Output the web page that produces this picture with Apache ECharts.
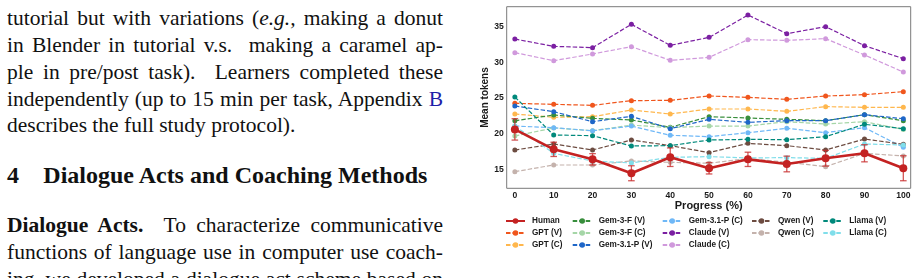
<!DOCTYPE html>
<html><head><meta charset="utf-8">
<script src="https://cdn.jsdelivr.net/npm/echarts@6/dist/echarts.min.js"></script>
<style>
html,body{margin:0;padding:0;width:918px;height:278px;overflow:hidden;background:#fff;}
.t{position:absolute;left:7px;width:436px;font-family:"Liberation Serif","Times New Roman",serif;font-size:21.5px;color:#111;white-space:nowrap;line-height:1;}
.j{text-align:justify;text-align-last:justify;white-space:normal;}
.h{position:absolute;font-family:"Liberation Serif",serif;font-weight:bold;font-size:24px;color:#111;line-height:1;white-space:nowrap;}
#chart{position:absolute;left:460px;top:0;width:458px;height:278px;}
</style></head>
<body>
<div class="t j" style="top:8px">tutorial but with variations (<i>e.g.,</i> making a donut</div>
<div class="t j" style="top:35.3px">in Blender in tutorial v.s.&nbsp; making a caramel ap-</div>
<div class="t j" style="top:62px">ple in pre/post task).&nbsp; Learners completed these</div>
<div class="t j" style="top:89.3px">independently (up to 15 min per task, Appendix <span style="color:#1f1fa8">B</span></div>
<div class="t" style="top:115.3px">describes the full study protocol).</div>
<div class="h" style="left:7px;top:163.2px">4</div>
<div class="h" style="left:43.3px;top:163.2px">Dialogue Acts and Coaching Methods</div>
<div class="t j" style="top:215.3px"><b>Dialogue Acts.</b>&nbsp; To characterize communicative</div>
<div class="t j" style="top:242px">functions of language use in computer use coach-</div>
<div class="t j" style="top:269px">ing, we developed a dialogue act scheme based on</div>
<div id="chart"></div>
<script>
const progress = [0, 10, 20, 30, 40, 50, 60, 70, 80, 90, 100];
const xTickLabels = [0, 10, 20, 30, 40, 50, 60, 70, 80, 90, 100];
const yTickLabels = [15, 20, 25, 30, 35];

const human    = [20.6, 17.8, 16.4, 14.45, 16.7, 15.15, 16.4, 15.75, 16.55, 17.25, 15.15];
const humanErr = [1.5, 1.0, 0.8, 1.05, 1.3, 0.8, 1.0, 1.1, 1.1, 1.2, 1.75];
const gptV     = [24.25, 24.11, 23.97, 24.63, 24.67, 25.28, 25.09, 24.81, 25.28, 25.47, 25.89];
const gptC     = [22.76, 22.29, 22.38, 23.32, 22.76, 23.46, 23.46, 23.13, 23.79, 23.69, 23.69];
const gem3fV   = [21.8, 22.62, 22.15, 21.92, 20.9, 22.38, 22.2, 22.01, 21.82, 22.66, 21.82];
const gem3fC   = [19.68, 20.8, 20.42, 21.2, 20.84, 21.07, 21.07, 21.68, 21.35, 21.68, 20.6];
const gem31pV  = [23.88, 23.08, 21.68, 22.43, 20.7, 22.01, 21.59, 21.82, 21.82, 22.66, 22.1];
const gem31pC  = [21.07, 20.84, 20.4, 21.07, 19.77, 19.58, 20.14, 20.75, 20.14, 20.84, 18.08];
const claudeV  = [33.27, 32.24, 32.06, 35.33, 32.38, 33.5, 36.64, 34.02, 35.0, 32.34, 30.51];
const claudeC  = [31.36, 30.23, 31.17, 32.2, 30.28, 30.7, 33.18, 33.08, 33.32, 31.03, 28.64];
const qwenV    = [17.71, 18.55, 17.71, 19.11, 18.32, 17.34, 18.64, 18.32, 17.71, 19.25, 18.5];
const qwenC    = [14.67, 15.61, 15.61, 16.17, 15.98, 15.85, 16.5, 16.0, 15.37, 17.24, 16.87];
const llamaV   = [25.14, 19.81, 19.72, 18.27, 18.32, 19.11, 19.2, 19.16, 19.58, 21.31, 20.7];
const llamaC   = [21.07, 17.24, 16.17, 15.89, 16.68, 16.78, 16.6, 16.64, 16.54, 18.55, 18.41];

const models = [
  ['GPT (V)', gptV, '#f0561d'],
  ['GPT (C)', gptC, '#ffb74d'],
  ['Gem-3-F (V)', gem3fV, '#388e3c'],
  ['Gem-3-F (C)', gem3fC, '#a5d6a7'],
  ['Gem-3.1-P (V)', gem31pV, '#1e66c8'],
  ['Gem-3.1-P (C)', gem31pC, '#6fb8f7'],
  ['Claude (V)', claudeV, '#7b1fa2'],
  ['Claude (C)', claudeC, '#d099dc'],
  ['Qwen (V)', qwenV, '#6d4c41'],
  ['Qwen (C)', qwenC, '#c4b2ac'],
  ['Llama (V)', llamaV, '#00897b'],
  ['Llama (C)', llamaC, '#80deea']
];

const txt = {fontFamily: 'Liberation Sans, Arial, sans-serif', color: '#1a1a1a', fontWeight: 'bold'};
const series = [];
models.forEach(([name, vals, color]) => {
  series.push({
    name, type: 'line', data: progress.map((x, i) => [x, vals[i]]),
    symbol: 'circle', symbolSize: 5, z: 3,
    lineStyle: {color, width: 1.2, type: [4.5, 2]},
    itemStyle: {color},
    emphasis: {disabled: true}, animation: false
  });
});
series.push({
  type: 'custom', z: 9, animation: false, silent: true,
  data: progress.map((x, i) => [x, human[i] - humanErr[i], human[i] + humanErr[i]]),
  encode: {x: 0, y: [1, 2]},
  renderItem: (params, api) => {
    const x = api.value(0);
    const p1 = api.coord([x, api.value(1)]);
    const p2 = api.coord([x, api.value(2)]);
    const w = 3.3;
    const st = {stroke: 'rgba(200,45,45,0.8)', lineWidth: 1.3};
    return {type: 'group', children: [
      {type: 'line', shape: {x1: p1[0], y1: p1[1], x2: p2[0], y2: p2[1]}, style: st},
      {type: 'line', shape: {x1: p1[0] - w, y1: p1[1], x2: p1[0] + w, y2: p1[1]}, style: st},
      {type: 'line', shape: {x1: p2[0] - w, y1: p2[1], x2: p2[0] + w, y2: p2[1]}, style: st}
    ]};
  }
});
series.push({
  name: 'Human', type: 'line', data: progress.map((x, i) => [x, human[i]]),
  symbol: 'circle', symbolSize: 8, z: 10,
  lineStyle: {color: '#c42222', width: 2.6},
  itemStyle: {color: '#c42222'},
  emphasis: {disabled: true}, animation: false
});

function legendCol(left, names) {
  return {
    orient: 'vertical', left, top: 211, itemWidth: 19, itemHeight: 7, itemGap: 2,
    selectedMode: false, data: names,
    textStyle: Object.assign({fontSize: 8.2, lineHeight: 10, padding: [0, 0, 0, 2]}, txt)
  };
}

const chart = echarts.init(document.getElementById('chart'), null, {renderer: 'canvas'});
chart.setOption({
  animation: false,
  grid: {left: 46.7, right: 7.3, top: 6.7, bottom: 89.7, show: true, borderColor: '#7a7a7a', borderWidth: 1, containLabel: false},
  xAxis: {
    type: 'value', min: -2.1, max: 101.9, splitNumber: 10,
    axisLine: {show: false}, axisTick: {show: false}, splitLine: {show: false},
    axisLabel: Object.assign({fontSize: 8.6, margin: 3, showMinLabel: false, showMaxLabel: false,
      formatter: v => { const r = Math.round(v); return (Math.abs(v - r) < 1e-6 && xTickLabels.includes(r)) ? String(r) : ''; }}, txt),
    name: 'Progress (%)', nameLocation: 'middle', nameGap: 12.5, nameMoveOverlap: false,
    nameTextStyle: Object.assign({fontSize: 11}, txt)
  },
  yAxis: {
    type: 'value', min: 12.34, max: 37.8, splitNumber: 5,
    axisLine: {show: false}, axisTick: {show: false}, splitLine: {show: false},
    axisLabel: Object.assign({fontSize: 8.6, margin: 3, showMinLabel: false, showMaxLabel: false,
      formatter: v => { const r = Math.round(v); return (Math.abs(v - r) < 1e-6 && yTickLabels.includes(r)) ? String(r) : ''; }}, txt),
    name: 'Mean tokens', nameLocation: 'middle', nameGap: 16.5, nameMoveOverlap: false,
    nameTextStyle: Object.assign({fontSize: 10}, txt)
  },
  legend: [
    legendCol(40, ['Human', 'GPT (V)', 'GPT (C)']),
    legendCol(106.7, ['Gem-3-F (V)', 'Gem-3-F (C)', 'Gem-3.1-P (V)']),
    legendCol(196.7, ['Gem-3.1-P (C)', 'Claude (V)', 'Claude (C)']),
    legendCol(286, ['Qwen (V)', 'Qwen (C)']),
    legendCol(357.3, ['Llama (V)', 'Llama (C)'])
  ],
  series
});
</script>
</body></html>
